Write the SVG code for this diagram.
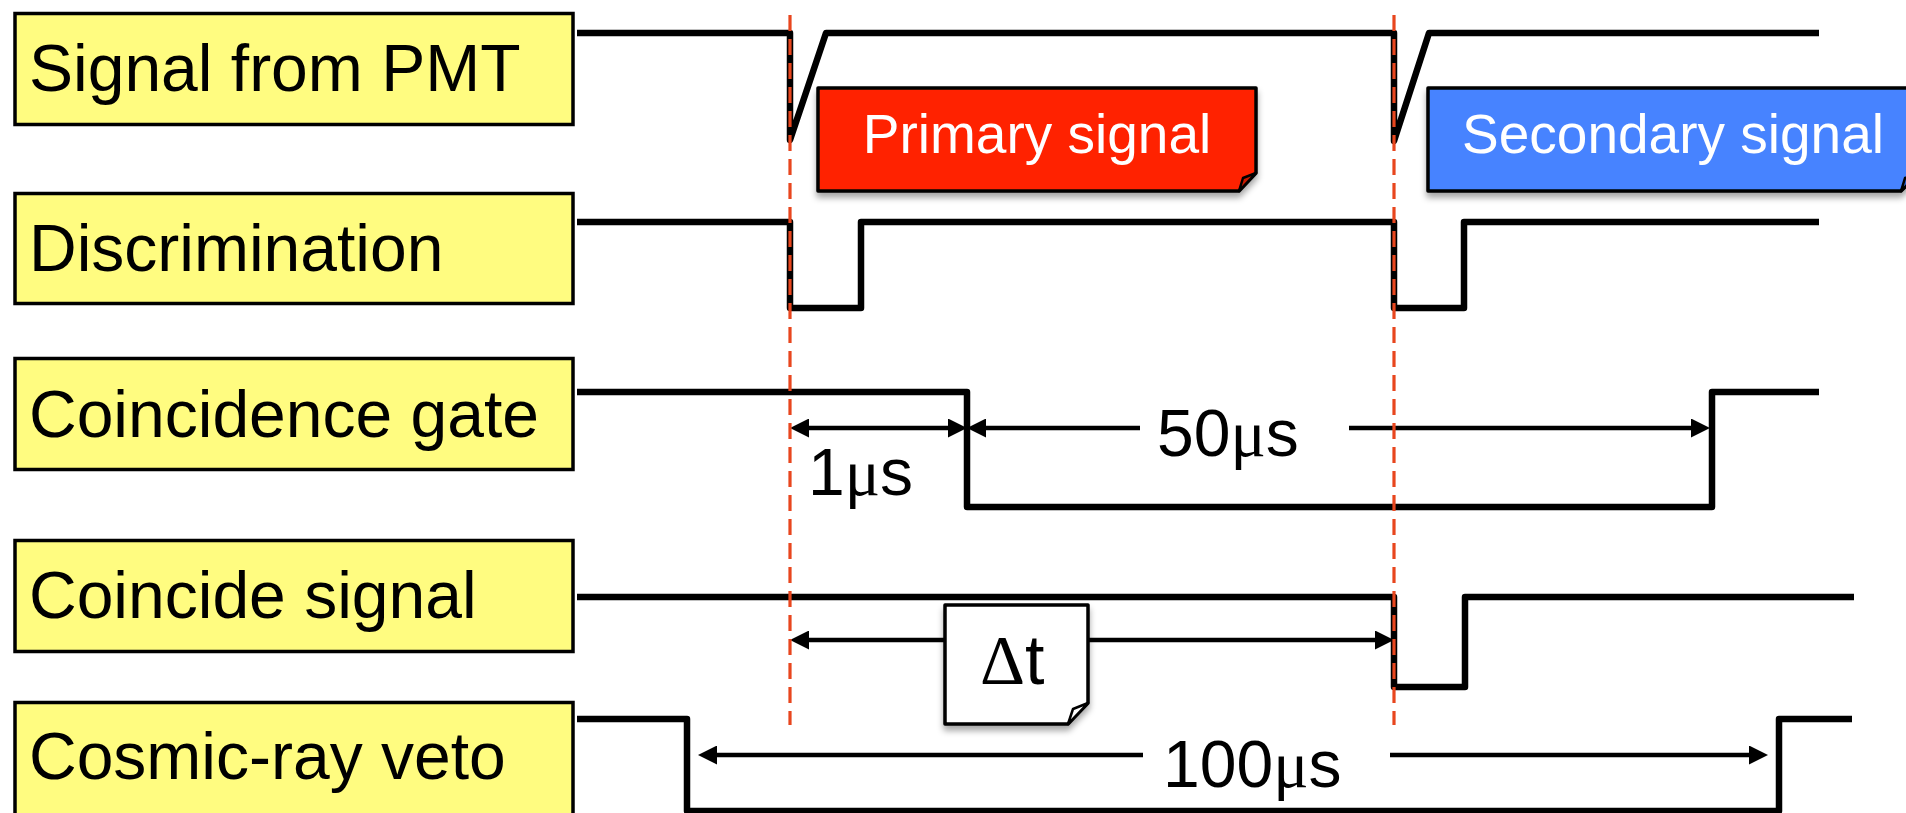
<svg xmlns="http://www.w3.org/2000/svg" width="1906" height="813" viewBox="0 0 1906 813">
<style>
.lbl{fill:#FFFC80;stroke:#000;stroke-width:3.5}
.lt{font-family:"Liberation Sans",Arial,sans-serif;font-size:66px;fill:#000}
.sig{fill:none;stroke:#000;stroke-width:6.5;stroke-linejoin:round;stroke-linecap:butt}
.arr{fill:none;stroke:#000;stroke-width:4.5}
.dash{fill:none;stroke:#E8461E;stroke-width:3.2;stroke-dasharray:16 8}
.call{stroke:#000;stroke-width:3.5;stroke-linejoin:round}
.fold{stroke:#000;stroke-width:2.5;stroke-linejoin:round}
.ct{font-family:"Liberation Sans",Arial,sans-serif;font-size:55px;fill:#fff;text-anchor:middle}
.mt{font-family:"Liberation Sans",Arial,sans-serif;font-size:66px;fill:#000}
.mu{font-family:"Liberation Serif","Times New Roman",serif}
</style>
<defs>
<marker id="ah" markerUnits="userSpaceOnUse" markerWidth="19" markerHeight="19" viewBox="0 0 19 19" refX="9" refY="9.5" orient="auto-start-reverse">
<path d="M0,0 L19,9.5 L0,19 z" fill="#000"/>
</marker>
<filter id="sh" x="-10%" y="-20%" width="120%" height="150%">
<feDropShadow dx="0" dy="5" stdDeviation="3" flood-color="#000" flood-opacity="0.35"/>
</filter>
</defs>
<rect width="1906" height="813" fill="#fff"/>

<g id="label-pmt"><rect class="lbl" x="15" y="13.5" width="558" height="111"/><text class="lt" x="29" y="91">Signal from PMT</text></g>
<g id="label-disc"><rect class="lbl" x="15" y="193.5" width="558" height="110"/><text class="lt" x="29" y="271">Discrimination</text></g>
<g id="label-gate"><rect class="lbl" x="15" y="358.5" width="558" height="111"/><text class="lt" x="29" y="437">Coincidence gate</text></g>
<g id="label-coinc"><rect class="lbl" x="15" y="540.5" width="558" height="111"/><text class="lt" x="29" y="618">Coincide signal</text></g>
<g id="label-veto"><rect class="lbl" x="15" y="702.5" width="558" height="114"/><text class="lt" x="29" y="779">Cosmic-ray veto</text></g>

<g id="connectors">
<path class="sig" d="M577,33 H790 V140 L826,33 H1394 V141 L1429,33 H1819"/>
<path class="sig" d="M577,222 H790 V308 H861 V222 H1394 V308 H1464 V222 H1819"/>
<path class="sig" d="M577,392 H967 V507 H1712 V392 H1819"/>
<path class="sig" d="M577,597 H1394 V687 H1465 V597 H1854"/>
<path class="sig" d="M577,719 H687 V811 H1779 V719 H1852"/>

<path class="arr" d="M800,428 H957" marker-start="url(#ah)" marker-end="url(#ah)"/>
<path class="arr" d="M977,428 H1140" marker-start="url(#ah)"/>
<path class="arr" d="M1349,428 H1700" marker-end="url(#ah)"/>
<path class="arr" d="M800,640 H945" marker-start="url(#ah)"/>
<path class="arr" d="M1088,640 H1384" marker-end="url(#ah)"/>
<path class="arr" d="M708,755 H1143" marker-start="url(#ah)"/>
<path class="arr" d="M1390,755 H1758" marker-end="url(#ah)"/>
</g>

<g id="primary">
<path class="call" filter="url(#sh)" fill="#FF2200" d="M818,88 H1256 V173 L1239,191 H818 Z"/>
<path class="fold" fill="#C81A00" d="M1256,173 L1243,178 L1239,191 Z"/>
<text class="ct" x="1037" y="153">Primary signal</text>
</g>
<g id="secondary">
<path class="call" filter="url(#sh)" fill="#4683FF" d="M1428,88 H1919 V173 L1901,191 H1428 Z"/>
<path class="fold" fill="#2F62CC" d="M1919,173 L1905,178 L1901,191 Z"/>
<text class="ct" x="1673" y="153">Secondary signal</text>
</g>
<g id="delta-t">
<path class="call" filter="url(#sh)" fill="#fff" d="M945,605 H1088 V703 L1068,724 H945 Z"/>
<path class="fold" fill="#fff" d="M1088,703 L1073,709 L1068,724 Z"/>
<text class="mt" x="980" y="684" style="font-size:70px"><tspan class="mu">Δ</tspan>t</text>
</g>

<g id="measures">
<text class="mt" x="808" y="495">1<tspan class="mu">μ</tspan>s</text>
<text class="mt" x="1157" y="456">50<tspan class="mu">μ</tspan>s</text>
<text class="mt" x="1163" y="787">100<tspan class="mu">μ</tspan>s</text>
</g>

<g id="markers-lines">
<path class="dash" d="M790,15 V725"/>
<path class="dash" d="M1394,15 V725"/>
</g>
</svg>
